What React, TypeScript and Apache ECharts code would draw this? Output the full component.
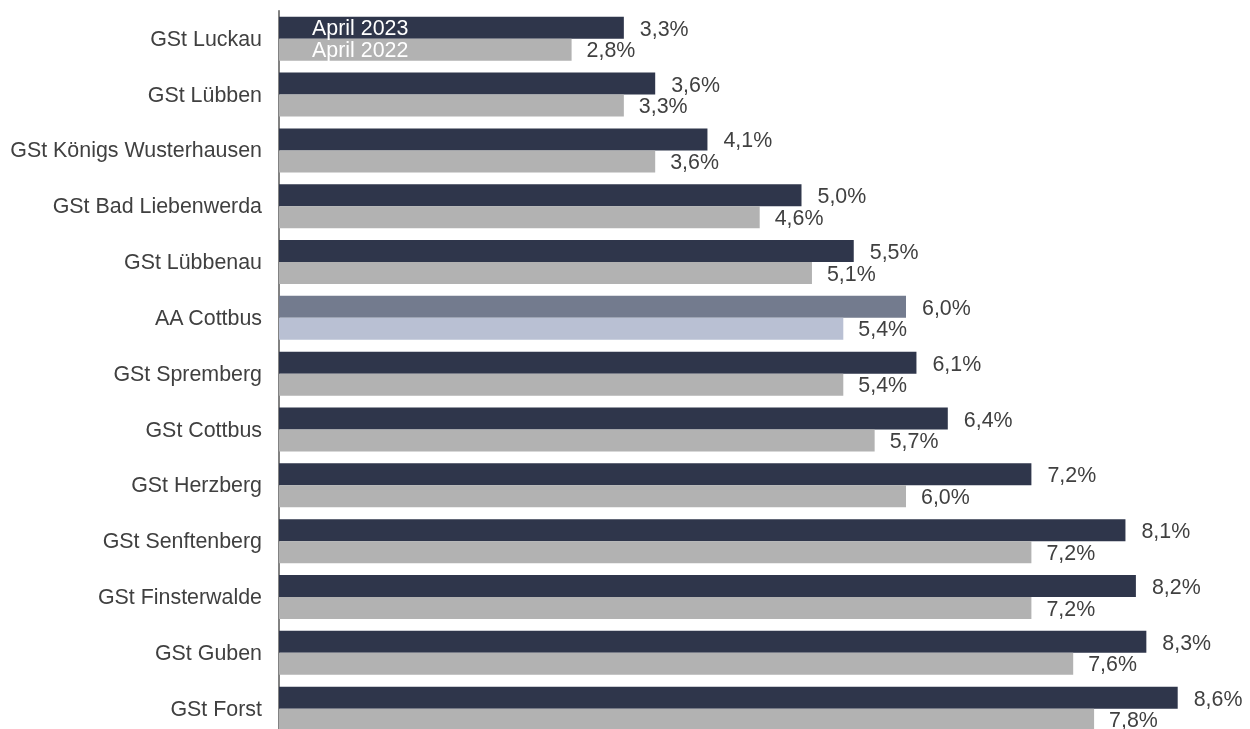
import React, { useEffect, useRef } from "react";
import * as echarts from "echarts";

const categories = [
  "GSt Luckau",
  "GSt Lübben",
  "GSt Königs Wusterhausen",
  "GSt Bad Liebenwerda",
  "GSt Lübbenau",
  "AA Cottbus",
  "GSt Spremberg",
  "GSt Cottbus",
  "GSt Herzberg",
  "GSt Senftenberg",
  "GSt Finsterwalde",
  "GSt Guben",
  "GSt Forst",
];
const values2023 = [3.3, 3.6, 4.1, 5.0, 5.5, 6.0, 6.1, 6.4, 7.2, 8.1, 8.2, 8.3, 8.6];
const values2022 = [2.8, 3.3, 3.6, 4.6, 5.1, 5.4, 5.4, 5.7, 6.0, 7.2, 7.2, 7.6, 7.8];
const seriesNames = ["April 2023", "April 2022"];
const highlightCategory = "AA Cottbus";

const FONT = "Liberation Sans, Arial, sans-serif";
const TEXT = "#404040";
const FS = 21.4;

export default function App() {
  const ref = useRef<HTMLDivElement>(null);
  useEffect(() => {
    document.body.style.margin = "0";
    document.body.style.overflow = "hidden";
    const chart = echarts.init(ref.current!, null, { renderer: "svg" });
    const fmt = (p: any) => p.value.toFixed(1).replace(".", ",") + "%";
    const mk = (vals: number[], base: string, hi: string) =>
      vals.map((v, i) => ({
        value: v,
        itemStyle: { color: categories[i] === highlightCategory ? hi : base },
      }));
    chart.setOption({
      animation: false,
      grid: { left: 279, top: 10.8, width: 1045, height: 725.8, containLabel: false },
      xAxis: {
        type: "value",
        min: 0,
        max: 10,
        show: false,
      },
      yAxis: {
        type: "category",
        data: categories,
        inverse: true,
        axisLine: { show: true, lineStyle: { color: "#595959", width: 1.5 } },
        axisTick: { show: false },
        axisLabel: {
          color: TEXT,
          fontFamily: FONT,
          fontSize: FS,
          margin: 17,
        },
      },
      series: [
        {
          name: seriesNames[0],
          type: "bar",
          barWidth: 22,
          barGap: "0%",
          data: mk(values2023, "#2f364b", "#737b8e"),
          label: {
            show: true,
            position: "right",
            distance: 16,
            offset: [0, 1],
            color: TEXT,
            fontFamily: FONT,
            fontSize: FS,
            formatter: fmt,
          },
        },
        {
          name: seriesNames[1],
          type: "bar",
          barWidth: 22,
          barGap: "0%",
          data: mk(values2022, "#b2b2b2", "#b9c0d3"),
          label: {
            show: true,
            position: "right",
            distance: 15,
            offset: [0, 0.5],
            color: TEXT,
            fontFamily: FONT,
            fontSize: FS,
            formatter: fmt,
          },
        },
      ],
    });
    const p = chart.convertToPixel({ xAxisIndex: 0, yAxisIndex: 0 }, [0, 0]) as number[];
    const x0 = p && isFinite(p[0]) ? p[0] : 279;
    const y0 = p && isFinite(p[1]) ? p[1] : 38.7;
    chart.setOption({
      graphic: [
        {
          type: "text",
          z: 100,
          left: x0 + 33,
          top: y0 - 11 - FS * 0.5,
          style: {
            text: seriesNames[0],
            fill: "#ffffff",
            fontFamily: FONT,
            fontSize: FS,
          },
        },
        {
          type: "text",
          z: 100,
          left: x0 + 33,
          top: y0 + 11 - FS * 0.5,
          style: {
            text: seriesNames[1],
            fill: "#ffffff",
            fontFamily: FONT,
            fontSize: FS,
          },
        },
      ],
    });
    return () => chart.dispose();
  }, []);
  return (
    <div
      ref={ref}
      style={{ position: "fixed", left: 0, top: 0, width: 1400, height: 800 }}
    />
  );
}
